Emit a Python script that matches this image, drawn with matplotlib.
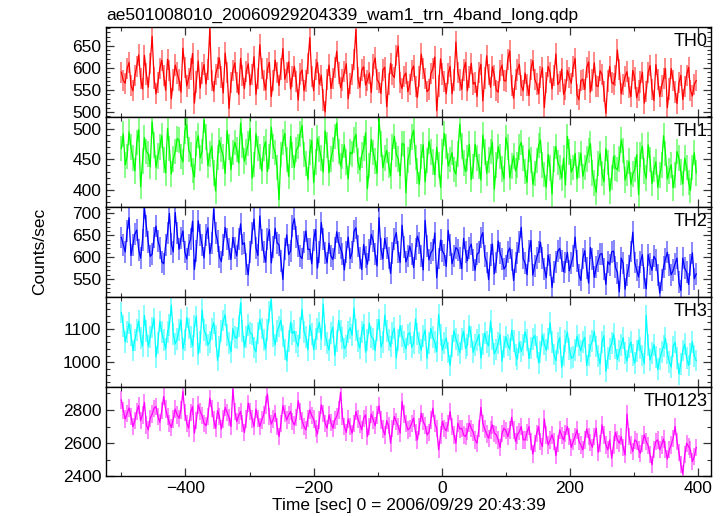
import numpy as np
import matplotlib
matplotlib.use('Agg')
import matplotlib.pyplot as plt
from matplotlib.ticker import MultipleLocator

plt.rcParams['font.family'] = ['Liberation Sans', 'DejaVu Sans']

sTitle = 'ae501008010_20060929204339_wam1_trn_4band_long.qdp'
sXlabel = 'Time [sec] 0 = 2006/09/29 20:43:39'
sYlabel = 'Counts/sec'

# time bins (sec from reference time)
dTime_start = -500
dTime_step = 3

aTH0 = [590, 571, 565, 598, 612, 560, 548, 582, 603, 629, 575, 552, 628, 586, 556,
        610, 671, 577, 541, 566, 598, 617, 583, 549, 619, 594, 530, 572, 606, 588,
        572, 545, 644, 601, 559, 576, 597, 632, 520, 568, 615, 554, 588, 607, 563,
        596, 688, 571, 547, 585, 601, 622, 579, 543, 633, 590, 508, 566, 594, 611,
        566, 540, 621, 583, 553, 592, 609, 561, 584, 625, 540, 575, 652, 598, 571,
        550, 598, 612, 535, 571, 617, 589, 560, 597, 643, 574, 589, 613, 552, 580,
        603, 569, 527, 586, 595, 548, 570, 609, 668, 581, 548, 596, 612, 563, 583,
        527, 500, 574, 606, 553, 575, 601, 637, 588, 555, 572, 591, 609, 530, 565,
        584, 618, 686, 577, 556, 595, 602, 561, 571, 588, 544, 606, 622, 573, 566,
        542, 595, 601, 512, 563, 610, 584, 578, 627, 649, 567, 553, 581, 588, 546,
        562, 594, 604, 558, 533, 580, 631, 599, 575, 546, 551, 587, 598, 624, 503,
        559, 620, 586, 569, 541, 587, 603, 541, 572, 658, 590, 572, 551, 595, 612,
        548, 579, 610, 563, 567, 535, 590, 608, 525, 577, 627, 584, 556, 602, 583,
        549, 545, 593, 606, 571, 570, 619, 638, 560, 531, 574, 595, 608, 560, 548,
        588, 561, 537, 596, 616, 574, 563, 541, 579, 600, 510, 566, 603, 589, 552,
        583, 631, 562, 569, 597, 540, 551, 594, 578, 565, 602, 621, 539, 528, 571,
        574, 551, 600, 613, 545, 572, 611, 559, 558, 593, 585, 547, 497, 570, 603,
        567, 563, 582, 640, 596, 541, 562, 580, 591, 556, 535, 594, 577, 532, 548,
        568, 590, 520, 547, 589, 605, 551, 526, 607, 574, 535, 559, 575, 598, 510,
        552, 598, 571, 545, 519, 566, 583, 528, 557, 583, 601, 549, 536, 562, 571]

aTH1 = [468, 492, 441, 455, 495, 470, 452, 431, 478, 499, 405, 447, 486, 463, 459,
        438, 512, 474, 437, 456, 470, 489, 449, 428, 501, 468, 426, 451, 463, 484,
        482, 455, 446, 497, 507, 466, 458, 432, 421, 476, 489, 452, 463, 515, 487,
        440, 459, 472, 428, 398, 453, 481, 466, 455, 427, 497, 470, 433, 461, 478,
        466, 444, 510, 473, 447, 462, 476, 501, 419, 442, 492, 468, 455, 431, 468,
        479, 430, 455, 503, 471, 461, 437, 384, 458, 479, 493, 450, 422, 488, 457,
        437, 466, 471, 492, 506, 458, 443, 417, 462, 481, 412, 446, 485, 467, 452,
        429, 497, 474, 428, 451, 466, 488, 510, 463, 439, 455, 474, 446, 418, 462,
        459, 482, 491, 447, 433, 457, 468, 494, 402, 440, 483, 461, 447, 427, 517,
        475, 436, 452, 465, 441, 423, 470, 488, 458, 451, 423, 476, 475, 395, 449,
        462, 487, 498, 453, 431, 409, 455, 474, 413, 448, 480, 462, 446, 425, 470,
        441, 404, 462, 493, 471, 439, 450, 461, 433, 426, 459, 508, 472, 444, 430,
        452, 475, 417, 438, 475, 452, 438, 416, 490, 462, 427, 449, 463, 478, 401,
        441, 471, 455, 434, 418, 486, 470, 420, 439, 456, 431, 441, 470, 478, 452,
        430, 412, 466, 449, 409, 427, 448, 473, 482, 441, 425, 404, 458, 436, 393,
        451, 471, 445, 437, 419, 452, 408, 488, 462, 429, 437, 460, 418, 441, 460,
        422, 437, 451, 465, 476, 428, 411, 396, 443, 460, 427, 413, 468, 445, 398,
        420, 455, 436, 433, 451, 482, 465, 416, 428, 447, 409, 426, 433, 458, 392,
        458, 472, 431, 419, 474, 450, 410, 433, 446, 404, 424, 441, 489, 460, 418,
        431, 441, 403, 424, 463, 452, 429, 410, 452, 437, 412, 399, 437, 461, 428]

aTH2 = [645, 628, 612, 660, 690, 604, 628, 653, 662, 617, 598, 640, 713, 671, 634,
        602, 607, 645, 671, 638, 622, 590, 585, 627, 655, 700, 630, 612, 702, 655,
        618, 643, 660, 612, 596, 628, 641, 682, 572, 614, 683, 651, 627, 598, 650,
        667, 608, 632, 710, 655, 638, 601, 590, 628, 668, 642, 619, 595, 645, 622,
        603, 641, 676, 629, 633, 584, 560, 612, 655, 687, 621, 604, 694, 640, 611,
        589, 642, 663, 587, 624, 666, 633, 628, 592, 549, 618, 651, 606, 614, 672,
        688, 646, 625, 602, 597, 634, 660, 618, 618, 585, 640, 663, 575, 611, 679,
        641, 609, 587, 632, 603, 595, 621, 658, 633, 620, 607, 571, 612, 646, 597,
        611, 659, 667, 625, 598, 572, 629, 601, 584, 617, 652, 637, 607, 580, 690,
        618, 596, 643, 621, 598, 563, 610, 641, 656, 612, 588, 673, 624, 589, 603,
        625, 608, 576, 619, 648, 632, 603, 571, 684, 626, 594, 610, 617, 655, 553,
        597, 639, 614, 606, 579, 661, 628, 585, 603, 622, 617, 598, 574, 643, 612,
        592, 621, 630, 594, 570, 607, 611, 645, 656, 602, 588, 549, 604, 630, 562,
        588, 637, 609, 596, 573, 580, 612, 621, 594, 547, 588, 609, 635, 668, 597,
        586, 560, 615, 638, 559, 581, 598, 612, 634, 599, 574, 553, 605, 582, 531,
        567, 590, 614, 620, 592, 567, 588, 611, 569, 586, 603, 646, 592, 560, 547,
        597, 615, 575, 541, 622, 596, 554, 578, 592, 607, 608, 573, 538, 590, 583,
        612, 614, 577, 565, 521, 598, 586, 527, 560, 580, 613, 657, 588, 571, 555,
        589, 606, 552, 528, 606, 584, 570, 602, 594, 560, 518, 549, 578, 596, 611,
        583, 560, 570, 585, 598, 543, 524, 598, 575, 566, 538, 582, 610, 551, 562]

aTH3 = [1150, 1110, 1062, 1090, 1118, 1081, 1035, 1066, 1097, 1124, 1072, 1049, 1141, 1093, 1048,
        1077, 1105, 1132, 1016, 1058, 1123, 1091, 1067, 1040, 1090, 1113, 1172, 1085, 1055, 1070,
        1098, 1127, 1040, 1068, 1135, 1102, 1077, 1049, 1110, 1138, 1024, 1061, 1158, 1096, 1083,
        1052, 1062, 1099, 1119, 1078, 1005, 1047, 1094, 1126, 1143, 1082, 1058, 1031, 1101, 1076,
        1072, 1109, 1180, 1095, 1046, 1075, 1113, 1088, 1085, 1044, 1031, 1089, 1129, 1102, 1066,
        1040, 1097, 1151, 1188, 1080, 1052, 1093, 1108, 1127, 1079, 1038, 1004, 1065, 1121, 1086,
        1093, 1061, 1048, 1103, 1160, 1092, 1075, 1037, 1112, 1085, 1038, 1071, 1099, 1120, 1069,
        1176, 1083, 1057, 1036, 1088, 1106, 1020, 1064, 1126, 1094, 1074, 1041, 1050, 1092, 1104,
        1081, 1163, 1096, 1063, 1042, 1091, 1114, 1030, 1068, 1118, 1077, 1071, 1035, 1096, 1129,
        1045, 1062, 1142, 1093, 1068, 1047, 1087, 1103, 1012, 1066, 1110, 1078, 1061, 1040, 1083,
        1089, 1045, 1058, 1131, 1084, 1058, 1036, 1078, 1097, 1011, 1059, 1102, 1075, 1060, 1032,
        1144, 1081, 1036, 1059, 1073, 1029, 990, 1048, 1095, 1070, 1052, 1028, 1070, 1093, 1041,
        1052, 1109, 1077, 1030, 1051, 1066, 1083, 1012, 1055, 1088, 1061, 1049, 1124, 1070, 1025,
        1038, 1058, 1084, 1003, 1046, 1077, 1052, 1039, 1097, 1064, 1021, 1009, 1060, 1032, 1051,
        1091, 1068, 1011, 1043, 1070, 1081, 1046, 998, 1030, 1082, 1055, 1036, 1071, 1119, 1060,
        1023, 1004, 1057, 1074, 985, 1020, 1064, 1091, 1040, 1012, 1015, 1037, 1078, 1052, 1034,
        1060, 1075, 990, 1021, 1049, 1065, 1093, 1047, 1018, 995, 1062, 1080, 972, 1013, 1040,
        1057, 1085, 1041, 1008, 1033, 1051, 1074, 1027, 1003, 1044, 1061, 1021, 997, 1033, 1066,
        1042, 1020, 996, 1141, 1052, 1006, 1028, 1053, 1015, 978, 1009, 1030, 1048, 1072, 1026,
        1001, 985, 1047, 1060, 1012, 964, 995, 1035, 1055, 1012, 990, 1024, 1062, 1018, 1005]

aTH0123 = [2860, 2795, 2745, 2780, 2812, 2760, 2700, 2735, 2790, 2825, 2735, 2770, 2845, 2710, 2680,
           2750, 2775, 2810, 2820, 2760, 2725, 2795, 2880, 2805, 2760, 2720, 2695, 2745, 2805, 2770,
           2750, 2800, 2910, 2785, 2720, 2690, 2785, 2820, 2660, 2735, 2830, 2790, 2765, 2720, 2705,
           2760, 2870, 2810, 2740, 2690, 2795, 2760, 2685, 2745, 2815, 2785, 2755, 2700, 2925, 2790,
           2730, 2765, 2790, 2720, 2665, 2745, 2840, 2790, 2745, 2700, 2805, 2750, 2700, 2740, 2770,
           2830, 2895, 2760, 2715, 2745, 2780, 2700, 2640, 2720, 2825, 2780, 2740, 2770, 2790, 2730,
           2710, 2755, 2855, 2790, 2735, 2700, 2680, 2750, 2800, 2765, 2745, 2690, 2655, 2740, 2830,
           2780, 2720, 2690, 2770, 2725, 2690, 2740, 2760, 2800, 2905, 2760, 2700, 2665, 2745, 2700,
           2660, 2720, 2790, 2745, 2715, 2680, 2750, 2770, 2640, 2700, 2775, 2740, 2705, 2770, 2825,
           2740, 2685, 2650, 2735, 2705, 2600, 2690, 2760, 2730, 2700, 2660, 2850, 2775, 2720, 2680,
           2690, 2720, 2750, 2665, 2620, 2700, 2780, 2730, 2705, 2650, 2665, 2740, 2810, 2720, 2690,
           2560, 2650, 2730, 2690, 2675, 2720, 2790, 2700, 2650, 2600, 2720, 2685, 2690, 2650, 2640,
           2670, 2720, 2690, 2665, 2620, 2600, 2690, 2815, 2720, 2685, 2655, 2630, 2680, 2710, 2660,
           2650, 2620, 2575, 2660, 2690, 2675, 2640, 2680, 2755, 2680, 2610, 2650, 2670, 2700, 2620,
           2620, 2665, 2700, 2610, 2535, 2600, 2660, 2700, 2610, 2580, 2745, 2650, 2590, 2620, 2650,
           2610, 2525, 2600, 2680, 2645, 2620, 2660, 2700, 2640, 2575, 2610, 2640, 2680, 2610, 2590,
           2560, 2620, 2685, 2640, 2605, 2575, 2640, 2690, 2545, 2600, 2710, 2650, 2590, 2560, 2620,
           2510, 2590, 2665, 2620, 2600, 2640, 2575, 2530, 2775, 2640, 2590, 2550, 2620, 2610, 2560,
           2540, 2600, 2650, 2610, 2585, 2530, 2470, 2560, 2610, 2620, 2560, 2590, 2625, 2560, 2505,
           2560, 2590, 2630, 2700, 2610, 2545, 2470, 2415, 2530, 2600, 2580, 2560, 2490, 2520, 2575]

# typical 1-sigma error bar per band
aError = [24, 21, 25, 33, 52]

aBand = ['TH0', 'TH1', 'TH2', 'TH3', 'TH0123']
aColor = ['#ff0000', '#00ff00', '#0000ff', '#00ffff', '#ff00ff']
aYlim = [(489, 692), (372, 520), (510, 715), (926, 1198), (2400, 2940)]
aYmajor = [50, 50, 50, 100, 200]
aYminor = [10, 10, 10, 20, 100]

aData = [aTH0, aTH1, aTH2, aTH3, aTH0123]

fig = plt.figure(dpi=100)
fig.set_figwidth(7.24)
fig.set_figheight(5.16)

dLeft = 0.1464
dWidth = 0.982 - dLeft
dBottom = 0.0766
dTop = 0.9477
dHeight = (dTop - dBottom) / 5.0

for i in range(5):
    ax = fig.add_axes([dLeft, dTop - (i + 1) * dHeight, dWidth, dHeight])
    aY = np.array(aData[i], dtype=float)
    aX = dTime_start + dTime_step * np.arange(len(aY))
    ax.errorbar(aX, aY, yerr=aError[i], fmt='none', ecolor=aColor[i],
                alpha=0.5, elinewidth=1.3, capsize=0)
    ax.plot(aX, aY, color=aColor[i], linewidth=0.9)
    ax.set_xlim(-524, 420)
    ax.set_ylim(aYlim[i])
    ax.xaxis.set_major_locator(MultipleLocator(200))
    ax.xaxis.set_minor_locator(MultipleLocator(100))
    ax.yaxis.set_major_locator(MultipleLocator(aYmajor[i]))
    ax.yaxis.set_minor_locator(MultipleLocator(aYminor[i]))
    ax.tick_params(which='both', direction='in', top=True, right=True,
                   color='#333333', labelsize=12.5)
    ax.tick_params(which='major', length=6, width=0.9)
    ax.tick_params(which='minor', length=3, width=0.8)
    for sSide in ax.spines:
        ax.spines[sSide].set_linewidth(1.0)
    ax.text(0.995, 0.93, aBand[i], transform=ax.transAxes, ha='right', va='top',
            fontsize=13)
    if i < 4:
        ax.set_xticklabels([])
    else:
        ax.set_xlabel(sXlabel, fontsize=12.5, labelpad=1)
    if i == 0:
        ax.set_title(sTitle, loc='left', fontsize=12.5, pad=5)

fig.text(0.055, (dTop + dBottom) / 2.0, sYlabel, rotation=90, ha='center',
         va='center', fontsize=12.5)

plt.savefig('out.png', dpi=100)
